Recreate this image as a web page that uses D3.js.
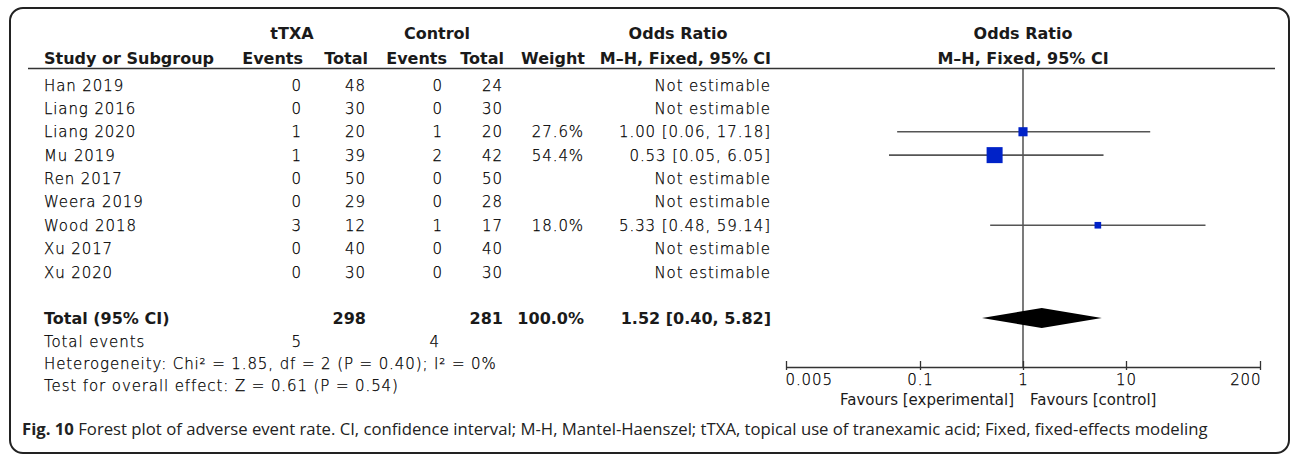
<!DOCTYPE html>
<html><head><meta charset="utf-8">
<script src="https://cdn.jsdelivr.net/npm/d3@7"></script>
<style>
html,body{margin:0;padding:0;background:#fff;}
svg{display:block;}
.reg{font-family:"DejaVu Sans",sans-serif;font-size:15px;font-weight:200;letter-spacing:0.9px;fill:#000;stroke:#000;stroke-width:0.25px;}
.bold{font-family:"DejaVu Sans",sans-serif;font-size:16px;font-weight:bold;fill:#1a1a1a;}
.fav{font-family:"DejaVu Sans",sans-serif;font-size:15px;fill:#1a1a1a;}
.cap{font-family:"Open Sans",sans-serif;font-size:16px;fill:#222;}
</style></head>
<body>
<script>
// ---- data ----
const studies = ["Han 2019","Liang 2016","Liang 2020","Mu 2019","Ren 2017","Weera 2019","Wood 2018","Xu 2017","Xu 2020"];
const eventsT = [0,0,1,1,0,0,3,0,0];
const totalT  = [48,30,20,39,50,29,12,40,30];
const eventsC = [0,0,1,2,0,0,1,0,0];
const totalC  = [24,30,20,42,50,28,17,40,30];
const weights = [null,null,27.6,54.4,null,null,18.0,null,null];
const oddsRatio = [null,null,1.00,0.53,null,null,5.33,null,null];
const ciLow  = [null,null,0.06,0.05,null,null,0.48,null,null];
const ciHigh = [null,null,17.18,6.05,null,null,59.14,null,null];
const pooled = {or:1.52, lo:0.40, hi:5.82, totalT:298, totalC:281, evT:5, evC:4, weight:"100.0%"};
const heterogeneity = "Heterogeneity: Chi\u00B2 = 1.85, df = 2 (P = 0.40); I\u00B2 = 0%";
const overall = "Test for overall effect: Z = 0.61 (P = 0.54)";
const tickValues = [0.005, 0.1, 1, 10, 200];
const tickLabels = ["0.005","0.1","1","10","200"];
const captionBold = "Fig. 10";
const captionText = " Forest plot of adverse event rate. CI, confidence interval; M-H, Mantel-Haenszel; tTXA, topical use of tranexamic acid; Fixed, fixed-effects modeling";

const W = 1292, H = 455;
const svg = d3.select("body").append("svg").attr("width", W).attr("height", H);

// frame
svg.append("rect").attr("x", 10).attr("y", 8).attr("width", 1279).attr("height", 445)
  .attr("rx", 13).attr("ry", 13).attr("fill", "none").attr("stroke", "#222").attr("stroke-width", 2);

// scales
const x = d3.scaleLog().domain([0.005, 200]).range([786, 1260]);
const rowY = d3.scaleLinear().domain([0, studies.length - 1]).range([85, 272]);
const sq = d3.scaleLinear().domain([0, 54.4]).range([2, 16]);

const fmt2 = d3.format(".2f");
const fmtW = d3.format(".1f");

// column right edges
const col = {evT:302, totT:366, evC:443, totC:503, wt:584, or:771};
const base = 5.5;

// headers
const hdr = svg.append("g").attr("class", "bold");
hdr.append("text").attr("x", 292).attr("y", 39).attr("text-anchor", "middle").text("tTXA");
hdr.append("text").attr("x", 437).attr("y", 39).attr("text-anchor", "middle").text("Control");
hdr.append("text").attr("x", 678).attr("y", 39).attr("text-anchor", "middle").text("Odds Ratio");
hdr.append("text").attr("x", 1023).attr("y", 39).attr("text-anchor", "middle").text("Odds Ratio");
hdr.append("text").attr("x", 44).attr("y", 64).text("Study or Subgroup");
[["Events",col.evT+1],["Total",col.totT+2],["Events",col.evC+4],["Total",col.totC+1],["Weight",col.wt+1],["M\u2013H, Fixed, 95% CI",col.or]]
  .forEach(([t, xx]) => hdr.append("text").attr("x", xx).attr("y", 64).attr("text-anchor", "end").text(t));
hdr.append("text").attr("x", 1023).attr("y", 64).attr("text-anchor", "middle").text("M\u2013H, Fixed, 95% CI");

// header rule
svg.append("line").attr("x1", 28).attr("x2", 1275).attr("y1", 68.5).attr("y2", 68.5)
  .attr("stroke", "#333").attr("stroke-width", 1.5);

// study rows
const rows = svg.append("g").attr("class", "reg");
studies.forEach((s, i) => {
  const y = rowY(i) + base;
  rows.append("text").attr("x", 44).attr("y", y).text(s);
  rows.append("text").attr("x", col.evT).attr("y", y).attr("text-anchor", "end").text(eventsT[i]);
  rows.append("text").attr("x", col.totT).attr("y", y).attr("text-anchor", "end").text(totalT[i]);
  rows.append("text").attr("x", col.evC).attr("y", y).attr("text-anchor", "end").text(eventsC[i]);
  rows.append("text").attr("x", col.totC).attr("y", y).attr("text-anchor", "end").text(totalC[i]);
  if (weights[i] != null) {
    rows.append("text").attr("x", col.wt).attr("y", y).attr("text-anchor", "end").text(fmtW(weights[i]) + "%");
    rows.append("text").attr("x", col.or).attr("y", y).attr("text-anchor", "end")
      .text(`${fmt2(oddsRatio[i])} [${fmt2(ciLow[i])}, ${fmt2(ciHigh[i])}]`);
  } else {
    rows.append("text").attr("x", col.or).attr("y", y).attr("text-anchor", "end").text("Not estimable");
  }
});

// total row
const totY = 318;
const tot = svg.append("g").attr("class", "bold");
tot.append("text").attr("x", 44).attr("y", totY + base).text("Total (95% CI)");
tot.append("text").attr("x", col.totT).attr("y", totY + base).attr("text-anchor", "end").text(pooled.totalT);
tot.append("text").attr("x", col.totC).attr("y", totY + base).attr("text-anchor", "end").text(pooled.totalC);
tot.append("text").attr("x", col.wt).attr("y", totY + base).attr("text-anchor", "end").text(pooled.weight);
tot.append("text").attr("x", col.or).attr("y", totY + base).attr("text-anchor", "end")
  .text(`${fmt2(pooled.or)} [${fmt2(pooled.lo)}, ${fmt2(pooled.hi)}]`);

const foot = svg.append("g").attr("class", "reg");
foot.append("text").attr("x", 44).attr("y", 341 + base).text("Total events");
foot.append("text").attr("x", col.evT).attr("y", 341 + base).attr("text-anchor", "end").text(pooled.evT);
foot.append("text").attr("x", col.evC - 3).attr("y", 341 + base).attr("text-anchor", "end").text(pooled.evC);
foot.append("text").attr("x", 44).attr("y", 363 + base).text(heterogeneity);
foot.append("text").attr("x", 44).attr("y", 385 + base).text(overall);

// plot
const axisY = 367;
svg.append("line").attr("x1", x(1)).attr("x2", x(1)).attr("y1", 69).attr("y2", axisY)
  .attr("stroke", "#333").attr("stroke-width", 1.3);

const ci = svg.append("g");
studies.forEach((s, i) => {
  if (oddsRatio[i] == null) return;
  const y = rowY(i);
  ci.append("line").attr("x1", x(ciLow[i])).attr("x2", x(ciHigh[i])).attr("y1", y).attr("y2", y)
    .attr("stroke", "#555").attr("stroke-width", 1.6);
  const sz = sq(weights[i]);
  ci.append("rect").attr("x", x(oddsRatio[i]) - sz / 2).attr("y", y - sz / 2)
    .attr("width", sz).attr("height", sz).attr("fill", "#0022c8");
});

// diamond
svg.append("path")
  .attr("d", `M${x(pooled.lo)},${totY} L${x(pooled.or)},${totY - 10} L${x(pooled.hi)},${totY} L${x(pooled.or)},${totY + 10} Z`)
  .attr("fill", "#000");

// axis
const axis = d3.axisBottom(x).tickValues(tickValues)
  .tickFormat((d, i) => tickLabels[i]).tickSizeInner(-6).tickSizeOuter(0).tickPadding(6);
const ag = svg.append("g").attr("transform", `translate(0,${axisY})`).call(axis);
ag.select(".domain").attr("stroke", "#333").attr("stroke-width", 1.3);
ag.selectAll(".tick line").attr("stroke", "#333").attr("stroke-width", 1.3).attr("y2", -6).attr("y1", 3);
ag.selectAll(".tick text").attr("class", "reg").attr("font-family", null).attr("font-size", null)
  .attr("fill", null).attr("dy", "0.71em").attr("y", 7);
ag.selectAll(".tick text").filter((d, i) => i === 0).attr("text-anchor", "start").attr("dx", -1);
ag.selectAll(".tick text").filter((d, i) => i === tickValues.length - 1).attr("text-anchor", "end").attr("dx", 1);

const fav = svg.append("g").attr("class", "fav");
fav.append("text").attr("x", 1014).attr("y", 405).attr("text-anchor", "end").text("Favours [experimental]");
fav.append("text").attr("x", 1030).attr("y", 405).text("Favours [control]");

// caption
const cap = svg.append("text").attr("class", "cap").attr("x", 22).attr("y", 435);
cap.append("tspan").attr("font-weight", "bold").text(captionBold);
cap.append("tspan").text(captionText);
const len = cap.node().getComputedTextLength();
cap.style("font-size", (16 * 1186 / len) + "px");
</script>
</body></html>
